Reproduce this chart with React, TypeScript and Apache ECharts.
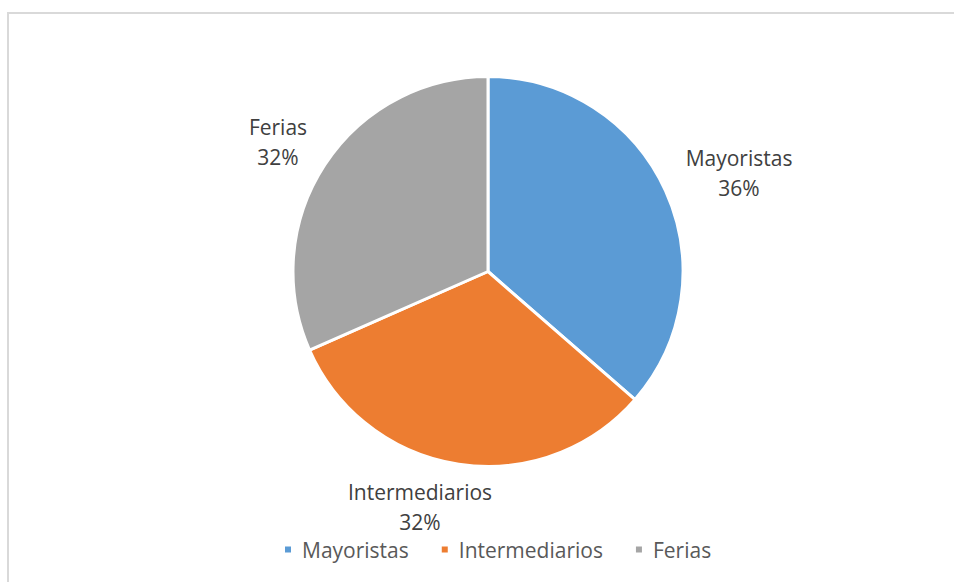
import React, { useEffect, useRef } from "react";
import * as echarts from "echarts";

const categories = ["Mayoristas", "Intermediarios", "Ferias"];
const values = [36.4, 32.0, 31.6];
const colors = ["#5B9BD5", "#ED7D31", "#A5A5A5"];
const labelCenters = [
  [739, 173],
  [420, 507],
  [278, 142],
];

export default function App() {
  const ref = useRef<HTMLDivElement>(null);
  useEffect(() => {
    document.body.style.margin = "0";
    const chart = echarts.init(ref.current!, null, { renderer: "svg" });
    const font = "Open Sans";
    chart.setOption({
      animation: false,
      backgroundColor: "#ffffff",
      color: colors,
      graphic: [
        {
          type: "rect",
          shape: { x: 8, y: 13, width: 1100, height: 700 },
          style: { fill: "none", stroke: "#d9d9d9", lineWidth: 2 },
          silent: true,
        },
      ],
      legend: {
        data: categories,
        bottom: 17,
        left: 278,
        icon: "rect",
        itemWidth: 8,
        itemHeight: 8,
        itemGap: 31,
        textStyle: {
          fontFamily: font,
          fontSize: 21,
          color: "#595959",
          padding: [0, 0, 0, 5],
        },
      },
      series: [
        {
          type: "pie",
          center: [488, 271.5],
          radius: 195,
          startAngle: 90,
          clockwise: true,
          data: categories.map((c, i) => ({ name: c, value: values[i] })),
          itemStyle: { borderColor: "#ffffff", borderWidth: 3 },
          label: {
            show: true,
            position: "outside",
            formatter: (p: any) => `${p.name}\n${Math.round(p.percent)}%`,
            fontFamily: font,
            fontSize: 21,
            lineHeight: 30,
            color: "#404040",
            align: "center",
          },
          labelLine: { show: false },
          labelLayout: (p: any) => ({
            x: labelCenters[p.dataIndex][0],
            y: labelCenters[p.dataIndex][1],
            align: "center",
            verticalAlign: "middle",
          }),
          emphasis: { disabled: true },
        },
      ],
    });
    return () => chart.dispose();
  }, []);
  return (
    <div
      ref={ref}
      style={{ position: "absolute", left: 0, top: 0, width: 954, height: 582 }}
    />
  );
}
